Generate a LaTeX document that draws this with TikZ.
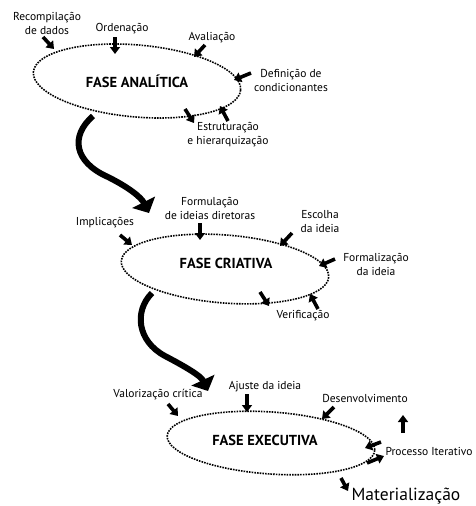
\documentclass[tikz,border=0pt]{standalone}
\usepackage{fontspec}
\setmainfont{PT Sans}
\usetikzlibrary{arrows.meta}

\begin{document}
\begin{tikzpicture}[x=1pt,y=-1pt,
  phase/.style={draw, line width=1.6pt, dash pattern=on 1.6pt off 1.1pt},
  title/.style={font=\fontsize{14.5}{16}\selectfont\bfseries, inner sep=0pt},
  lbl/.style={font=\fontsize{11.5}{14}\selectfont, align=center, inner sep=0pt},
  biglbl/.style={font=\fontsize{17.5}{19}\selectfont, inner sep=0pt},
  small/.style={line width=3.6pt, -{Triangle[width=10pt,length=7pt]}},
  big/.style={line width=6pt, -{Triangle[width=25pt,length=12pt]}}
]
\useasboundingbox (0,0) rectangle (476,506);

% ---------- analytic phase ----------
\coordinate (c1) at (137,81);
\draw[phase, rotate around={-5:(c1)}] (c1) ellipse [x radius=104, y radius=36];
\node[title] (t1) at (c1) {FASE ANALÍTICA};

\node[lbl] (recomp) at (47,23) {Recompilação\\de dados};
\node[lbl] (orden) at (122,29) {Ordenação};
\node[lbl] (aval) at (212,38) {Avaliação};
\node[lbl] (defin) at (291,80) {Definição de\\condicionantes};
\node[lbl] (estru) at (228,135) {Estruturação\\e hierarquização};

\coordinate (r0) at (43,37);   \coordinate (r1) at (54,49);
\coordinate (o0) at (115,37);  \coordinate (o1) at (115,54);
\coordinate (v0) at (205,45);  \coordinate (v1) at (194,57);
\coordinate (d0) at (251,73);  \coordinate (d1) at (234,80);
\coordinate (e0) at (185,109); \coordinate (e1) at (194,123);
\coordinate (f0) at (228,121); \coordinate (f1) at (220,106);
\draw[small] (r0) -- (r1);
\draw[small] (o0) -- (o1);
\draw[small] (v0) -- (v1);
\draw[small] (d0) -- (d1);
\draw[small] (e0) -- (e1);
\draw[small] (f0) -- (f1);

% ---------- transition to the creative phase ----------
\coordinate (a1s) at (93,116);
\coordinate (a1t) at (149,213);
\draw[big] (a1s) .. controls (70,136) and (74,162) .. (108,177)
                 .. controls (128,187) and (141,197) .. (a1t);

% ---------- creative phase ----------
\coordinate (c2) at (225,269);
\draw[phase, rotate around={-4.5:(c2)}] (c2) ellipse [x radius=104, y radius=34];
\node[title] (t2) at (226,263) {FASE CRIATIVA};

\node[lbl] (impl) at (105,223) {Implicações};
\node[lbl] (formu) at (210,208) {Formulação\\de ideias diretoras};
\node[lbl] (escol) at (320,222) {Escolha\\da ideia};
\node[lbl] (forma) at (376,264) {Formalização\\da ideia};
\node[lbl] (verif) at (303,316) {Verificação};

\coordinate (i0) at (120,235); \coordinate (i1) at (132,245);
\coordinate (g0) at (200,223); \coordinate (g1) at (200,240);
\coordinate (s0) at (292,233); \coordinate (s1) at (280,246);
\coordinate (m0) at (335,259); \coordinate (m1) at (319,266);
\coordinate (k0) at (260,292); \coordinate (k1) at (269,306);
\coordinate (n0) at (318,309); \coordinate (n1) at (310,294);
\draw[small] (i0) -- (i1);
\draw[small] (g0) -- (g1);
\draw[small] (s0) -- (s1);
\draw[small] (m0) -- (m1);
\draw[small] (k0) -- (k1);
\draw[small] (n0) -- (n1);

% ---------- transition to the executive phase ----------
\coordinate (a2s) at (152,293);
\coordinate (a2t) at (208,391);
\draw[big] (a2s) .. controls (134,311) and (137,341) .. (165,356)
                 .. controls (186,367) and (201,376) .. (a2t);

% ---------- executive phase ----------
\coordinate (c3) at (271,443);
\draw[phase, rotate around={-4:(c3)}] (c3) ellipse [x radius=104, y radius=31];
\node[title] (t3) at (265,440) {FASE EXECUTIVA};

\node[lbl] (valor) at (158,395) {Valorização crítica};
\node[lbl] (ajust) at (265,387) {Ajuste da ideia};
\node[lbl] (desen) at (365,398) {Desenvolvimento};
\node[lbl] (proc) at (429,451) {Processo Iterativo};
\node[biglbl, anchor=base] (mater) at (406,500) {Materialização};

\coordinate (w0) at (168,404); \coordinate (w1) at (178,416);
\coordinate (j0) at (247,394); \coordinate (j1) at (247,412);
\coordinate (x0) at (334,407); \coordinate (x1) at (322,419);
\coordinate (u0) at (403,433); \coordinate (u1) at (403,415);
\coordinate (p0) at (381,442); \coordinate (p1) at (365,448);
\coordinate (q0) at (367,463); \coordinate (q1) at (384,456);
\coordinate (z0) at (341,478); \coordinate (z1) at (348,491);
\draw[small] (w0) -- (w1);
\draw[small] (j0) -- (j1);
\draw[small] (x0) -- (x1);
\draw[small] (u0) -- (u1);
\draw[small] (p0) -- (p1);
\draw[small] (q0) -- (q1);
\draw[small] (z0) -- (z1);
\end{tikzpicture}
\end{document}
